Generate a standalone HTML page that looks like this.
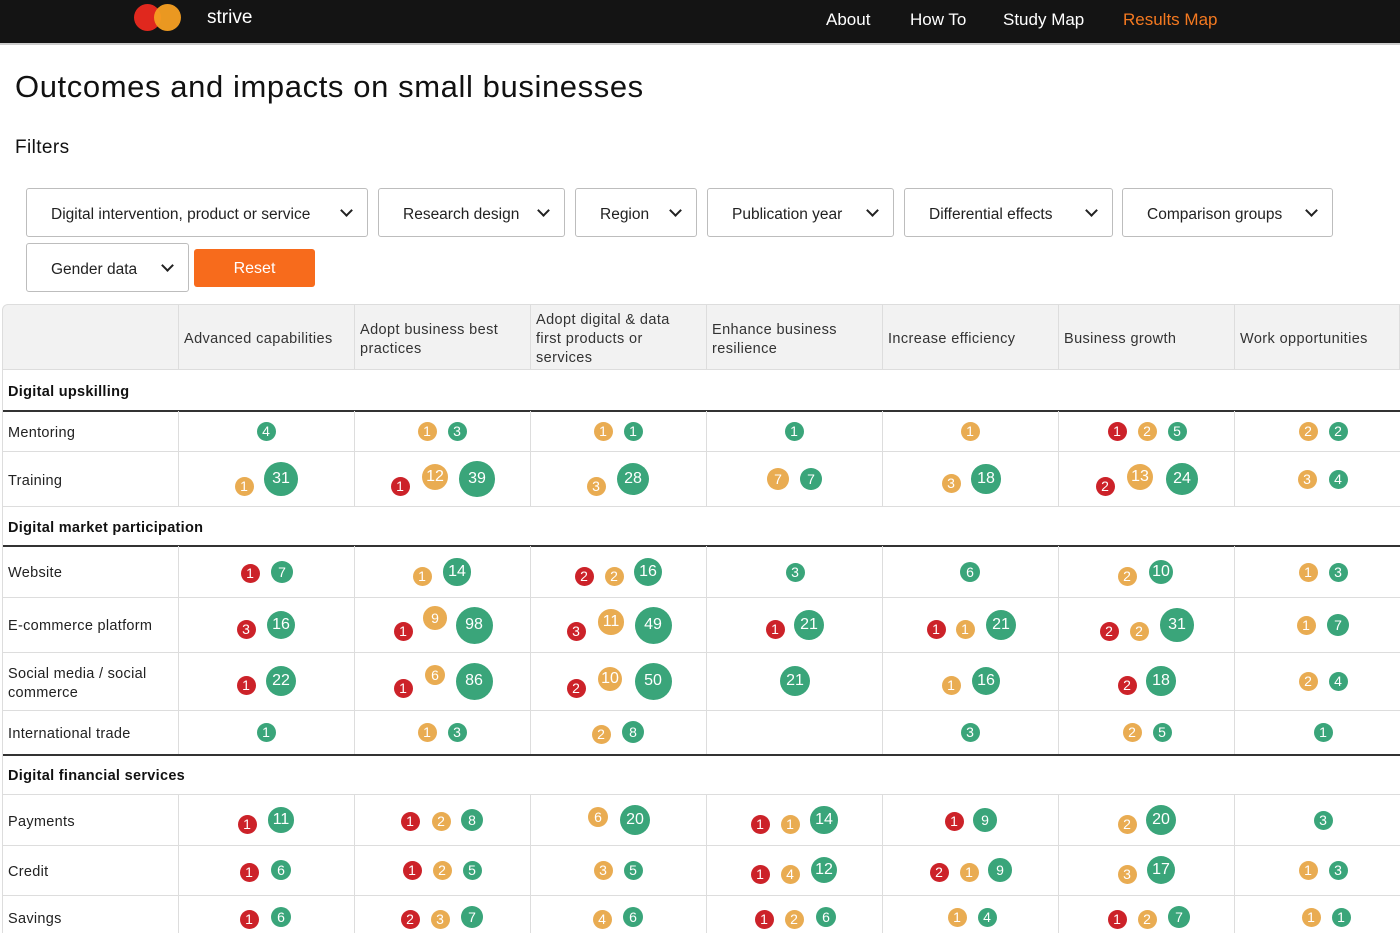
<!DOCTYPE html>
<html><head><meta charset="utf-8"><style>
*{box-sizing:border-box;margin:0;padding:0}
body{width:1400px;height:933px;overflow:hidden;background:#fff;font-family:"Liberation Sans","DejaVu Sans",sans-serif;color:#1a1a1a;position:relative}
.a{position:absolute}
.nav{left:0;top:0;width:1400px;height:45px;background:#141414;border-bottom:2px solid #ccc}
.nav span{position:absolute;top:10px;font-size:17px;color:#fff}
.sel{position:absolute;height:49px;border:1.5px solid #bdbdbd;border-radius:3px;font-size:15.5px;padding-left:24px;line-height:51px;color:#222}
.sel:after{content:"";position:absolute;right:16px;top:17px;width:7px;height:7px;border-right:2px solid #222;border-bottom:2px solid #222;transform:rotate(45deg)}
.hl{position:absolute;height:1px;background:#ddd;left:2px;width:1398px}
.vl{position:absolute;width:1px;background:#ddd}
.t{position:absolute;font-size:14.5px;color:#222;letter-spacing:.3px;margin-top:2px}
.h{position:absolute;font-size:14.5px;color:#333;letter-spacing:.4px;line-height:19px;margin-top:2px}
.b{position:absolute;border-radius:50%;color:#fff;text-align:center;font-size:15px;font-weight:300;display:flex;align-items:center;justify-content:center}
</style></head><body>
<div class="a nav">
 <div class="a" style="left:134px;top:4px;width:27px;height:27px;border-radius:50%;background:#e0281e"></div>
 <div class="a" style="left:154px;top:4px;width:27px;height:27px;border-radius:50%;background:#f59f22;opacity:.95"></div>
 <span style="left:207px;top:7px;font-size:19px">strive</span>
 <span style="left:826px">About</span><span style="left:910px">How To</span><span style="left:1003px">Study Map</span><span style="left:1123px;color:#f47920">Results Map</span>
</div>
<div class="a" style="left:15px;top:69px;font-size:31px;color:#111;letter-spacing:.6px">Outcomes and impacts on small businesses</div>
<div class="a" style="left:15px;top:137px;font-size:19px;color:#111;letter-spacing:.4px">Filters</div>
<div class="sel" style="left:26px;top:188px;width:342px">Digital intervention, product or service</div>
<div class="sel" style="left:378px;top:188px;width:187px">Research design</div>
<div class="sel" style="left:575px;top:188px;width:122px">Region</div>
<div class="sel" style="left:707px;top:188px;width:187px">Publication year</div>
<div class="sel" style="left:904px;top:188px;width:209px">Differential effects</div>
<div class="sel" style="left:1122px;top:188px;width:211px">Comparison groups</div>
<div class="sel" style="left:26px;top:243px;width:163px">Gender data</div>
<div class="a" style="left:194px;top:249px;width:121px;height:38px;background:#f76b1c;border-radius:3px;color:#fff;font-size:16px;text-align:center;line-height:40px">Reset</div>

<div class="a" style="left:2px;top:304px;width:1398px;height:66px;background:#f2f2f2;border:1px solid #ddd;border-radius:6px 0 0 0"></div>
<div id="g"></div>
<div class="h" style="left:184px;top:328px">Advanced capabilities</div>
<div class="h" style="left:360px;top:319px">Adopt business best<br>practices</div>
<div class="h" style="left:536px;top:309px">Adopt digital &amp; data<br>first products or<br>services</div>
<div class="h" style="left:712px;top:319px">Enhance business<br>resilience</div>
<div class="h" style="left:888px;top:328px">Increase efficiency</div>
<div class="h" style="left:1064px;top:328px">Business growth</div>
<div class="h" style="left:1240px;top:328px">Work opportunities</div>

<div class="t" style="left:8px;top:382px;font-weight:bold;color:#111">Digital upskilling</div>
<div class="t" style="left:8px;top:423px">Mentoring</div>
<div class="t" style="left:8px;top:471px">Training</div>
<div class="t" style="left:8px;top:518px;font-weight:bold;color:#111">Digital market participation</div>
<div class="t" style="left:8px;top:563px">Website</div>
<div class="t" style="left:8px;top:616px">E-commerce platform</div>
<div class="t" style="left:8px;top:663px;line-height:19px">Social media / social<br>commerce</div>
<div class="t" style="left:8px;top:724px">International trade</div>
<div class="t" style="left:8px;top:766px;font-weight:bold;color:#111">Digital financial services</div>
<div class="t" style="left:8px;top:812px">Payments</div>
<div class="t" style="left:8px;top:862px">Credit</div>
<div class="t" style="left:8px;top:909px">Savings</div>
<div id="bb"></div>
<script>
var g=document.getElementById('g'),h='';
[451,506,597,652,710,794,845,895].forEach(function(y){h+='<div class="hl" style="top:'+y+'px"></div>'});
[410,545,754].forEach(function(y){h+='<div class="hl" style="top:'+y+'px;height:2px;background:#333"></div>'});
var segs=[[304,370],[411,506],[546,754],[795,933]];
[178,354,530,706,882,1058,1234].forEach(function(x){segs.forEach(function(s){h+='<div class="vl" style="left:'+x+'px;top:'+s[0]+'px;height:'+(s[1]-s[0])+'px"></div>'})});
h+='<div class="vl" style="left:2px;top:370px;height:563px"></div>';
g.innerHTML=h;
var C={g:'#3aa57a',o:'#e9ac52',r:'#cc2229'};
var D=[
[266,431,'g',4],[427,431,'o',1],[457,431,'g',3],[603,431,'o',1],[633,431,'g',1],[794,431,'g',1],[970,431,'o',1],[1117,431,'r',1],[1147,431,'o',2],[1177,431,'g',5],[1308,431,'o',2],[1338,431,'g',2],
[244,486,'o',1],[281,479,'g',31],[400,486,'r',1],[435,477,'o',12],[477,479,'g',39],[596,486,'o',3],[633,479,'g',28],[778,479,'o',7],[811,479,'g',7],[951,483,'o',3],[986,479,'g',18],[1105,486,'r',2],[1140,477,'o',13],[1182,479,'g',24],[1307,479,'o',3],[1338,479,'g',4],
[250,573,'r',1],[282,572,'g',7],[422,576,'o',1],[457,572,'g',14],[584,576,'r',2],[614,576,'o',2],[648,572,'g',16],[795,572,'g',3],[970,572,'g',6],[1127,576,'o',2],[1161,572,'g',10],[1308,572,'o',1],[1338,572,'g',3],
[246,629,'r',3],[281,625,'g',16],[403,631,'r',1],[435,618,'o',9],[474,625,'g',98],[576,631,'r',3],[611,622,'o',11],[653,625,'g',49],[775,629,'r',1],[809,625,'g',21],[936,629,'r',1],[965,629,'o',1],[1001,625,'g',21],[1109,631,'r',2],[1139,631,'o',2],[1177,625,'g',31],[1306,625,'o',1],[1338,625,'g',7],
[246,685,'r',1],[281,681,'g',22],[403,688,'r',1],[435,675,'o',6],[474,681,'g',86],[576,688,'r',2],[610,679,'o',10],[653,681,'g',50],[795,681,'g',21],[951,685,'o',1],[986,681,'g',16],[1127,685,'r',2],[1161,681,'g',18],[1308,681,'o',2],[1338,681,'g',4],
[266,732,'g',1],[427,732,'o',1],[457,732,'g',3],[601,734,'o',2],[633,732,'g',8],[970,732,'g',3],[1132,732,'o',2],[1162,732,'g',5],[1323,732,'g',1],
[247,824,'r',1],[281,820,'g',11],[410,821,'r',1],[441,821,'o',2],[472,820,'g',8],[598,817,'o',6],[635,820,'g',20],[760,824,'r',1],[790,824,'o',1],[824,820,'g',14],[954,821,'r',1],[985,820,'g',9],[1127,824,'o',2],[1161,820,'g',20],[1323,820,'g',3],
[249,872,'r',1],[281,870,'g',6],[412,870,'r',1],[442,870,'o',2],[472,870,'g',5],[603,870,'o',3],[633,870,'g',5],[760,874,'r',1],[790,874,'o',4],[824,870,'g',12],[939,872,'r',2],[969,872,'o',1],[1000,870,'g',9],[1127,874,'o',3],[1161,870,'g',17],[1308,870,'o',1],[1338,870,'g',3],
[249,919,'r',1],[281,917,'g',6],[410,919,'r',2],[440,919,'o',3],[472,917,'g',7],[602,919,'o',4],[633,917,'g',6],[764,919,'r',1],[794,919,'o',2],[826,917,'g',6],[957,917,'o',1],[987,917,'g',4],[1117,919,'r',1],[1147,919,'o',2],[1179,917,'g',7],[1311,917,'o',1],[1341,917,'g',1]
];
var s='';
D.forEach(function(d){var n=d[3];var z=Math.min(37,19+8*Math.log(Math.max(n,5)/5));
s+='<div class="b" style="left:'+(d[0]-z/2)+'px;top:'+(d[1]-z/2)+'px;width:'+z+'px;height:'+z+'px;background:'+C[d[2]]+';font-size:'+(z>24?16:14)+'px">'+n+'</div>'});
document.getElementById('bb').innerHTML=s;
</script>
</body></html>
